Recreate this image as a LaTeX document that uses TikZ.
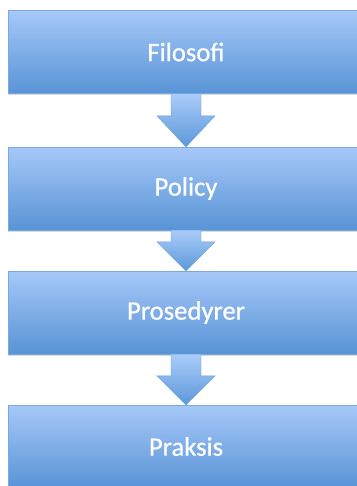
\documentclass[tikz,border=0pt]{standalone}
\usepackage{fontspec}
\setmainfont{Carlito}
\newfontfamily\labelfont[FakeBold=0.6]{Carlito}
\usetikzlibrary{calc,shadows}

\definecolor{boxtop}{RGB}{166,200,248}
\definecolor{boxbottom}{RGB}{88,148,214}
\definecolor{arrowtop}{RGB}{170,204,250}
\definecolor{arrowbottom}{RGB}{92,152,217}

\tikzset{every picture/.style={line width=0.75pt}}
\tikzset{
  stagebox/.style={rectangle, minimum width=267pt, minimum height=62pt,
    top color=boxtop, bottom color=boxbottom, draw=boxbottom!80!white, line width=0.4pt,
    drop shadow={shadow xshift=0pt, shadow yshift=-1.5pt, opacity=0.3},
    text=white, font=\labelfont\fontsize{20pt}{24pt}\selectfont},
  blockarrow/.style={top color=arrowtop, bottom color=arrowbottom,
    draw=boxbottom!90!white, line width=0.3pt}
}

\begin{document}
\begin{tikzpicture}[x=0.75pt,y=0.75pt,yscale=-1,xscale=1]
\clip (0,0) rectangle (357,486);
\fill[white] (0,0) rectangle (357,486);

%Shape: Rectangle [filosofi]
\node[stagebox] (filosofi) at (186,52) {Filosofi};
%Shape: Rectangle [policy]
\node[stagebox] (policy) at (186,188.5) {Policy};
%Shape: Rectangle [prosedyrer]
\node[stagebox] (prosedyrer) at (186,312.5) {Prosedyrer};
%Shape: Rectangle [praksis]
\node[stagebox] (praksis) at (186,446.5) {Praksis};

%Shape: Down Arrow [filosofi -> policy]
\path[blockarrow] ($(filosofi.south)+(-15,0)$) -- ($(policy.north)+(-15,-31)$) -- ($(policy.north)+(-29,-31)$) -- (policy.north) -- ($(policy.north)+(29,-31)$) -- ($(policy.north)+(15,-31)$) -- ($(filosofi.south)+(15,0)$) -- cycle ;
%Shape: Down Arrow [policy -> prosedyrer]
\path[blockarrow] ($(policy.south)+(-15,0)$) -- ($(prosedyrer.north)+(-15,-29)$) -- ($(prosedyrer.north)+(-29,-29)$) -- (prosedyrer.north) -- ($(prosedyrer.north)+(29,-29)$) -- ($(prosedyrer.north)+(15,-29)$) -- ($(policy.south)+(15,0)$) -- cycle ;
%Shape: Down Arrow [prosedyrer -> praksis]
\path[blockarrow] ($(prosedyrer.south)+(-15,0)$) -- ($(praksis.north)+(-15,-29)$) -- ($(praksis.north)+(-29,-29)$) -- (praksis.north) -- ($(praksis.north)+(29,-29)$) -- ($(praksis.north)+(15,-29)$) -- ($(prosedyrer.south)+(15,0)$) -- cycle ;

\end{tikzpicture}
\end{document}
